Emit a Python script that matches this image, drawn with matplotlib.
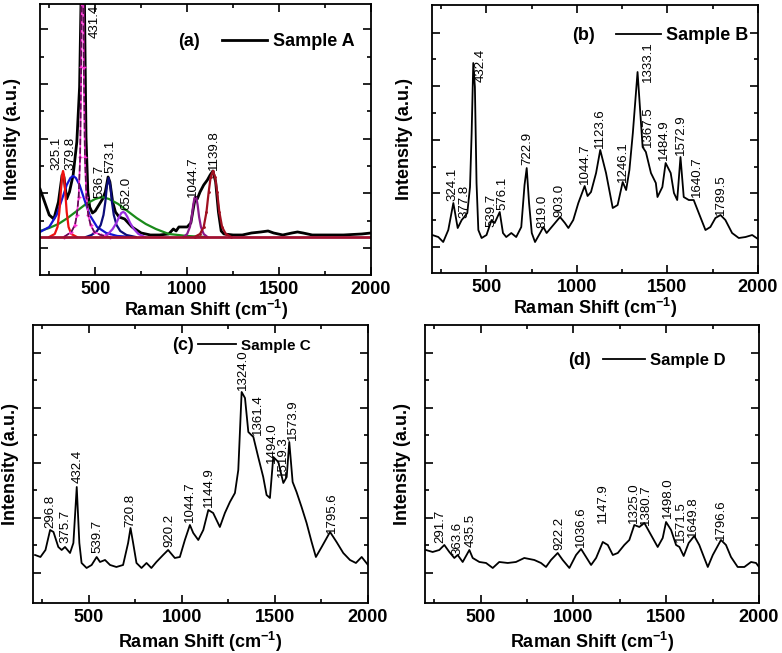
import matplotlib
matplotlib.use("Agg")
import matplotlib.pyplot as plt

plt.rcParams['font.family'] = ['Liberation Sans', 'DejaVu Sans']
plt.rcParams['mathtext.fontset'] = 'custom'
plt.rcParams['mathtext.rm'] = 'Liberation Sans:bold'
plt.rcParams['mathtext.default'] = 'rm'

# ---- Panel (a): Sample A spectrum (arbitrary units) ----
a_w = [200, 225, 250, 275, 300, 320, 330, 345, 360, 380, 400, 415, 425, 432, 440, 450, 460, 470,
       485, 500, 520, 540, 555, 570, 580, 595, 610, 630, 660, 700, 750, 800, 850, 900, 925, 940,
       955, 975, 1000, 1020, 1035, 1045, 1055, 1070, 1090, 1110, 1125, 1140, 1155, 1170, 1185,
       1200, 1250, 1300, 1350, 1400, 1440, 1470, 1520, 1570, 1600, 1630, 1680, 1750, 1850, 1950, 2000]
a_i = [48, 35, 22, 18, 35, 62, 60, 38, 45, 62, 95, 150, 260, 400, 260, 100, 45, 30,
       24, 26, 32, 38, 45, 60, 55, 35, 25, 20, 18, 10, 4, 2, 2, 3, 8, 6,
       10, 10, 10, 14, 30, 40, 38, 45, 52, 57, 62, 66, 55, 25, 6,
       3, 2, 2, 4, 5, 6, 4, 2, 4, 5, 4, 2, 2, 2, 3, 4]

# fitted components in (a)
red_w = [250, 280, 295, 305, 313, 320, 325, 330, 337, 345, 355, 370, 400]
red_i = [0, 3, 10, 25, 45, 62, 66, 62, 45, 25, 10, 3, 0]
blue_w = [200, 250, 290, 320, 345, 365, 380, 395, 415, 440, 470, 510, 560, 620, 700]
blue_i = [5, 10, 22, 38, 52, 59, 61, 59, 52, 38, 22, 10, 4, 1, 0]
pink_w = [330, 370, 390, 400, 410, 418, 424, 428, 431, 434, 438, 444, 452, 462, 475, 495, 530, 580]
pink_i = [0, 5, 12, 22, 40, 80, 170, 300, 420, 300, 170, 80, 40, 22, 12, 5, 2, 0]
green_w = [200, 250, 300, 350, 400, 450, 500, 537, 575, 625, 675, 725, 775, 830, 900, 1000, 1100]
green_i = [6, 9, 13, 19, 26, 33, 38, 40, 38, 33, 26, 19, 13, 8, 3, 1, 0]
navy_w = [450, 480, 510, 530, 545, 555, 563, 573, 583, 591, 601, 616, 636, 670, 720]
navy_i = [0, 2, 6, 12, 22, 35, 50, 59, 50, 35, 22, 12, 6, 2, 0]
violet_w = [540, 570, 595, 615, 630, 642, 652, 662, 675, 690, 710, 735, 770]
violet_i = [0, 3, 8, 14, 20, 24, 25, 24, 20, 14, 8, 3, 0]
purple_w = [980, 1000, 1015, 1025, 1033, 1040, 1045, 1050, 1057, 1065, 1075, 1090, 1110]
purple_i = [0, 3, 10, 20, 32, 39, 40, 39, 32, 20, 10, 3, 0]
maroon_w = [1040, 1070, 1090, 1105, 1117, 1128, 1140, 1152, 1163, 1175, 1190, 1210, 1240]
maroon_i = [0, 3, 10, 25, 45, 60, 66, 60, 45, 25, 10, 3, 0]

a_lab = [325.1, 379.8, 431.4, 536.7, 573.1, 652.0, 1044.7, 1139.8]
a_lab_x = [291, 363, 499, 523, 585, 672, 1031, 1143]
a_lab_y = [67, 67, 199, 39, 64, 27, 40, 67]

# ---- Panel (b): Sample B ----
b_w = [202, 235, 262, 290, 318, 342, 364, 378, 395, 410, 419, 428, 437, 446, 456, 474, 501, 529,
       546, 574, 592, 610, 638, 665, 693, 711, 723, 736, 751, 769, 797, 815, 833, 870, 907, 934,
       953, 980, 1008, 1043, 1059, 1078, 1106, 1129, 1161, 1198, 1225, 1253, 1272, 1290, 1309,
       1335, 1363, 1381, 1409, 1436, 1445, 1472, 1490, 1518, 1536, 1554, 1572, 1590, 1618, 1645,
       1673, 1710, 1737, 1765, 1793, 1820, 1857, 1894, 1931, 1968, 2000]
b_i = [38, 36, 31, 43, 70, 45, 53, 56, 60, 86, 140, 210, 186, 90, 43, 35, 38, 53,
       50, 61, 40, 36, 40, 36, 46, 88, 105, 70, 40, 31, 40, 46, 40, 48, 56, 50,
       45, 53, 70, 87, 77, 81, 100, 123, 100, 65, 68, 91, 83, 103, 140,
       201, 126, 121, 100, 90, 76, 86, 110, 100, 80, 73, 116, 76, 73, 73,
       60, 43, 46, 55, 58, 53, 40, 35, 36, 38, 34]

b_lab = [324.1, 377.8, 432.4, 539.7, 576.1, 722.9, 819.0, 903.0, 1044.7, 1123.6, 1246.1,
         1333.1, 1367.5, 1484.9, 1572.9, 1640.7, 1789.5]
b_lab_x = [314, 378, 470, 526, 590, 724, 811, 903, 1046, 1129, 1253, 1391, 1391, 1482, 1572, 1664, 1793]
b_lab_y = [72, 55, 191, 46, 63, 108, 45, 56, 89, 125, 91, 191, 126, 113, 118, 76, 58]

# ---- Panel (c): Sample C ----
c_w = [211, 240, 267, 292, 310, 336, 354, 372, 399, 417, 435, 449, 461, 488, 515, 542, 560, 587,
       614, 648, 684, 711, 724, 738, 756, 783, 810, 836, 863, 899, 926, 962, 989, 1016, 1043,
       1061, 1088, 1115, 1142, 1168, 1204, 1231, 1258, 1285, 1303, 1321, 1339, 1357, 1384, 1410,
       1437, 1455, 1473, 1491, 1518, 1545, 1563, 1577, 1595, 1616, 1643, 1670, 1697, 1720, 1751,
       1796, 1831, 1867, 1903, 1935, 1966, 2000]
c_i = [48, 46, 53, 73, 71, 56, 53, 56, 50, 60, 116, 60, 40, 35, 38, 46, 41, 43,
       38, 36, 38, 60, 75, 60, 40, 35, 40, 35, 41, 48, 53, 45, 46, 63, 78,
       70, 63, 73, 93, 90, 76, 90, 101, 110, 133, 211, 205, 171, 166, 146,
       126, 108, 105, 146, 141, 120, 126, 161, 121, 111, 96, 80, 61, 46, 56,
       71, 61, 50, 43, 40, 46, 38]

c_lab = [296.8, 375.7, 432.4, 539.7, 720.8, 920.2, 1044.7, 1144.9, 1324.0, 1361.4, 1494.0,
         1519.3, 1573.9, 1795.6]
c_lab_x = [291, 372, 438, 545, 725, 931, 1044, 1147, 1330, 1411, 1482, 1542, 1599, 1805]
c_lab_y = [75, 60, 120, 50, 76, 56, 81, 96, 213, 168, 140, 126, 163, 70]

# ---- Panel (d): Sample D ----
d_w = [205, 241, 277, 304, 331, 358, 376, 403, 439, 457, 493, 529, 565, 600, 646, 690, 735, 789,
       825, 852, 879, 915, 942, 978, 1014, 1041, 1068, 1095, 1122, 1158, 1185, 1212, 1239, 1274,
       1301, 1328, 1355, 1382, 1418, 1454, 1481, 1499, 1526, 1553, 1571, 1594, 1621, 1651, 1678,
       1705, 1724, 1751, 1795, 1822, 1849, 1885, 1921, 1957, 1984, 2000]
d_i = [53, 51, 53, 58, 51, 45, 48, 41, 53, 45, 41, 40, 35, 41, 40, 41, 45, 43,
       40, 36, 43, 50, 43, 35, 48, 54, 46, 38, 45, 61, 58, 48, 50, 58,
       63, 78, 76, 80, 68, 56, 65, 81, 73, 58, 56, 47, 60, 67, 58,
       45, 36, 48, 63, 58, 46, 36, 36, 41, 40, 36]

d_lab = [291.7, 363.6, 435.5, 922.2, 1036.6, 1147.9, 1325.0, 1380.7, 1498.0, 1571.5, 1649.8, 1796.6]
d_lab_x = [283, 376, 448, 924, 1041, 1158, 1328, 1391, 1508, 1580, 1643, 1795]
d_lab_y = [60, 48, 56, 53, 56, 80, 80, 78, 85, 61, 66, 63]


def style_axes(ax, ylim, yt_major, yt_minor, ylab_x, xlab_y):
    ax.set_xlim(200, 2000)
    ax.set_ylim(*ylim)
    ax.set_xticks([500, 1000, 1500, 2000])
    ax.set_xticks([250, 750, 1250, 1750], minor=True)
    ax.set_yticks(yt_major)
    ax.set_yticks(yt_minor, minor=True)
    ax.set_yticklabels([])
    ax.tick_params(which='both', direction='in', top=True, right=True, width=1.2)
    ax.tick_params(which='major', length=6, labelsize=13, pad=4)
    ax.tick_params(which='minor', length=3)
    for lab in ax.get_xticklabels():
        lab.set_fontweight('bold')
    for sp in ax.spines.values():
        sp.set_linewidth(1.3)
    ax.set_xlabel(r'Raman Shift (cm$^{-1}$)', fontsize=13, fontweight='bold')
    ax.set_ylabel('Intensity (a.u.)', fontsize=13, fontweight='bold', va='center')
    ax.yaxis.set_label_coords(ylab_x, 0.5)
    ax.xaxis.set_label_coords(0.5, xlab_y)


def add_labels(ax, vals, xs, ys):
    for v, x, y in zip(vals, xs, ys):
        ax.text(x, y, f'{v:.1f}', rotation=90, ha='center', va='bottom', fontsize=9.5)


def add_key(ax, tag, tag_x, tag_y, line_x, size):
    ax.text(tag_x, tag_y, tag, transform=ax.transAxes, ha='center', va='center',
            fontsize=13, fontweight='bold')
    ax.legend(frameon=False, loc='center left', bbox_to_anchor=(line_x, tag_y),
              borderpad=0, borderaxespad=0, handlelength=2.5, handletextpad=0.3,
              prop={'size': size, 'weight': 'bold'})


fig = plt.figure(figsize=(7.82, 6.53), dpi=100)

# (a)
ax = fig.add_axes([0.0512, 0.5789, 0.4233, 0.415])
ax.plot(a_w, a_i, color='black', lw=2, label='Sample A')
ax.plot(green_w, green_i, color='#1a8a1a', lw=1.6)
ax.plot(blue_w, blue_i, color='#1414d2', lw=1.6)
ax.plot(red_w, red_i, color='#ee1111', lw=1.6)
ax.plot(navy_w, navy_i, color='#0c0c7a', lw=1.6)
ax.plot(violet_w, violet_i, color='#9a30e0', lw=1.6)
ax.plot(pink_w, pink_i, color='#ff30d8', lw=1.2, marker='+', ms=3)
ax.plot(pink_w, pink_i, color='#5a1050', lw=1.2, ls='--')
ax.plot(purple_w, purple_i, color='#8a1a8a', lw=1.6)
ax.plot(maroon_w, maroon_i, color='#a01020', lw=1.6, marker='.', ms=2)
ax.plot([200, 2000], [0, 0], color='#a01030', lw=2)
add_labels(ax, a_lab, a_lab_x, a_lab_y)
style_axes(ax, (-38, 233), [-11, 44, 98, 153, 208], [16, 71, 126, 180], -27.5 / 331, -23 / 271)
add_key(ax, '(a)', 0.449, 0.86, 0.55, 13)

# (b)
ax = fig.add_axes([0.5524, 0.5819, 0.4169, 0.4104])
ax.plot(b_w, b_i, color='black', lw=1.3, label='Sample B')
add_labels(ax, b_lab, b_lab_x, b_lab_y)
style_axes(ax, (0, 268), [26, 80, 133, 187, 240], [53, 106, 160, 214], -27.5 / 326, -23 / 268)
add_key(ax, '(b)', 0.465, 0.885, 0.564, 13)

# (c)
ax = fig.add_axes([0.0422, 0.0766, 0.4284, 0.4257])
ax.plot(c_w, c_i, color='black', lw=1.3, label='Sample C')
add_labels(ax, c_lab, c_lab_x, c_lab_y)
style_axes(ax, (0, 278), [30, 85, 140, 195, 250], [58, 113, 168, 223], -22 / 335, -27 / 278)
add_key(ax, '(c)', 0.448, 0.926, 0.493, 11)

# (d)
ax = fig.add_axes([0.5435, 0.0766, 0.4271, 0.4257])
ax.plot(d_w, d_i, color='black', lw=1.3, label='Sample D')
add_labels(ax, d_lab, d_lab_x, d_lab_y)
style_axes(ax, (0, 278), [30, 85, 140, 195, 250], [58, 113, 168, 223], -23 / 334, -27 / 278)
add_key(ax, '(d)', 0.464, 0.872, 0.533, 12)

fig.savefig('out.png', dpi=100)
